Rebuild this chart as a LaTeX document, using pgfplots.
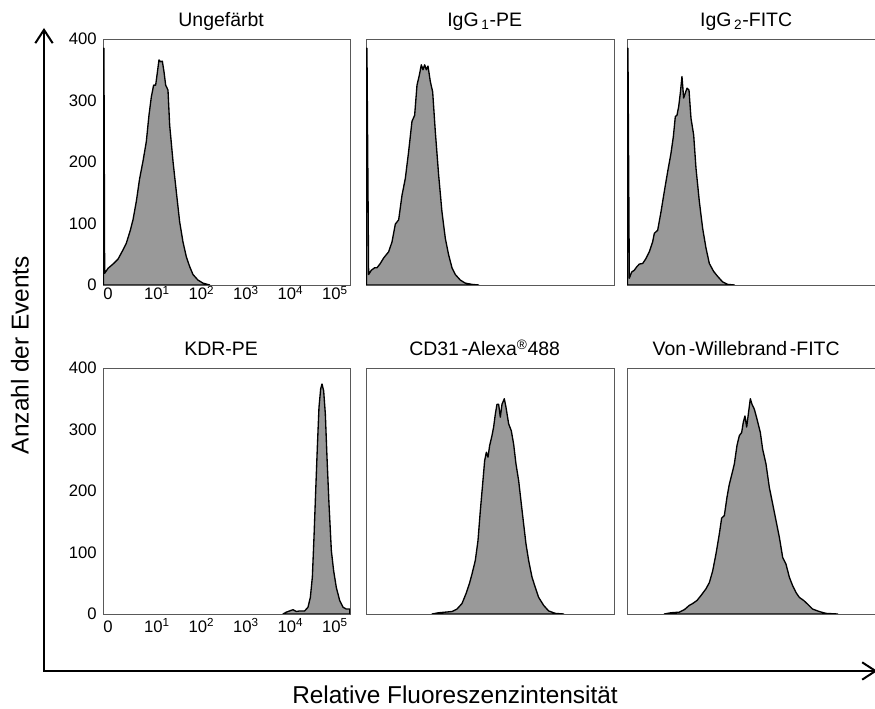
\documentclass[border=0pt]{standalone}
\usepackage{fontspec}
\setmainfont{Liberation Sans}
\usepackage{pgfplots}
\usepackage{pgfplotstable}
\pgfplotsset{compat=1.18}
\usetikzlibrary{arrows.meta}

\pgfplotstableread{
x y
-0.205 0
-0.205 385
-0.192 385
-0.176 19
-0.101 27
0.011 34
0.124 42
0.236 57
0.311 68
0.401 89
0.461 106
0.536 136
0.610 173
0.685 201
0.760 233
0.820 276
0.873 306
0.925 325
0.970 325
1.000 341
1.045 366
1.082 363
1.120 364
1.157 347
1.195 325
1.247 317
1.285 260
1.360 201
1.434 152
1.509 103
1.584 70
1.659 46
1.734 30
1.809 17
1.921 8
2.034 3
2.184 0
}\ungef

\pgfplotstableread{
x y
-0.205 0
-0.205 385
-0.192 385
-0.154 17
-0.094 24
-0.019 28
0.034 28
0.109 35
0.184 44
0.296 54
0.371 70
0.446 99
0.521 106
0.596 146
0.670 173
0.745 217
0.820 266
0.880 276
0.933 325
0.985 341
1.030 358
1.067 350
1.105 358
1.142 350
1.180 356
1.232 331
1.285 314
1.345 249
1.419 179
1.494 119
1.569 76
1.644 49
1.719 28
1.794 17
1.906 8
2.018 3
2.169 1
2.318 0
}\igga

\pgfplotstableread{
x y
-0.205 0
-0.205 385
-0.192 385
-0.161 11
-0.109 21
-0.049 24
0.011 30
0.064 34
0.139 35
0.213 43
0.288 54
0.363 70
0.401 84
0.476 89
0.551 119
0.625 152
0.700 184
0.775 214
0.828 241
0.873 274
0.910 276
0.948 290
0.985 312
1.022 339
1.060 304
1.097 312
1.135 320
1.180 317
1.225 271
1.285 244
1.337 190
1.412 136
1.487 92
1.562 60
1.637 35
1.734 22
1.824 14
1.936 5
2.049 1
2.199 0
}\iggb

\pgfplotstableread{
x y
3.831 0
3.906 3
3.981 5
4.056 7
4.131 4
4.206 5
4.318 5
4.393 11
4.446 27
4.491 60
4.528 125
4.566 200
4.603 271
4.640 336
4.678 366
4.708 374
4.745 363
4.783 325
4.820 255
4.865 179
4.918 103
4.970 70
5.030 43
5.105 22
5.180 11
5.255 8
5.330 8
}\kdr

\pgfplotstableread{
x y
1.270 0
1.419 2
1.569 3
1.719 4
1.831 8
1.944 17
2.034 33
2.109 49
2.169 65
2.243 87
2.303 119
2.356 168
2.408 211
2.453 249
2.491 263
2.528 255
2.566 274
2.618 290
2.655 304
2.693 325
2.730 341
2.768 341
2.805 320
2.843 341
2.895 350
2.933 336
2.993 309
3.052 298
3.105 276
3.157 244
3.217 217
3.277 179
3.330 146
3.382 114
3.442 87
3.517 60
3.592 43
3.667 27
3.779 14
3.891 5
4.040 1
4.228 0
}\cdtl

\pgfplotstableread{
x y
0.625 0
0.775 2
0.963 3
1.075 7
1.187 14
1.262 17
1.360 22
1.449 30
1.562 41
1.637 51
1.712 70
1.787 98
1.861 130
1.914 156
1.974 160
2.034 190
2.086 211
2.146 228
2.199 244
2.258 274
2.311 290
2.363 295
2.401 312
2.438 322
2.476 304
2.513 325
2.558 350
2.596 341
2.648 333
2.708 317
2.783 295
2.835 268
2.910 244
2.985 206
3.060 179
3.135 152
3.210 125
3.285 92
3.360 81
3.434 60
3.509 46
3.584 35
3.659 27
3.757 22
3.846 16
3.958 8
4.107 4
4.257 1
4.519 0
}\vwf

\pgfplotsset{
  panel/.style={
    scale only axis, height=184.5pt,
    ymin=0, ymax=400, xmin=-0.213,
    anchor=south west,
    axis line style={black!65, line width=0.5pt},
    xtick=\empty, ytick=\empty,
    major tick length=0pt,
    title style={font=\fontsize{14.6pt}{17pt}\selectfont, anchor=base, at={(0.5,1)}, yshift=3pt, xshift=-4pt},
    ticklabel style={font=\fontsize{12.5pt}{14pt}\selectfont},
  },
  labelled/.style={
    xtick={-0.1,1,2,3,4,5},
    xticklabels={0,10\textsuperscript{1},10\textsuperscript{2},10\textsuperscript{3},10\textsuperscript{4},10\textsuperscript{5}},
    ytick={0,100,200,300,400},
    yticklabels={0,100,200,300,400},
    xticklabel style={anchor=base, inner sep=0pt},
    yticklabel style={anchor=east, inner sep=0pt, xshift=-4.5pt},
  },
  hist/.style={draw=black, line width=1pt, fill=black!40, line join=round},
}

\begin{document}
\begin{tikzpicture}
\useasboundingbox (0,0) rectangle (656.25pt,531.75pt);

% row 1
\begin{axis}[panel, labelled, at={(77.25pt,318pt)}, width=185.25pt, xmax=5.337, title={Ungefärbt},
  xticklabel style={yshift=-11.25pt}]
\addplot[hist] table {\ungef} \closedcycle;
\end{axis}
\begin{axis}[panel, at={(274.5pt,318pt)}, width=186pt, xmax=5.36, title={IgG\kern2pt\textsubscript{1}-PE}]
\addplot[hist] table {\igga} \closedcycle;
\end{axis}
\begin{axis}[panel, at={(470.25pt,318pt)}, width=186.75pt, xmax=5.382, title={IgG\kern2pt\textsubscript{2}-FITC}]
\addplot[hist] table {\iggb} \closedcycle;
\end{axis}

% row 2
\begin{axis}[panel, labelled, at={(77.25pt,71.25pt)}, width=185.25pt, xmax=5.337, title={KDR-PE},
  xticklabel style={yshift=-14pt}]
\addplot[hist] table {\kdr} \closedcycle;
\end{axis}
\begin{axis}[panel, at={(274.5pt,71.25pt)}, width=186pt, xmax=5.36, title={CD31\kern2pt-Alexa\textsuperscript{®}488}]
\addplot[hist] table {\cdtl} \closedcycle;
\end{axis}
\begin{axis}[panel, at={(470.25pt,71.25pt)}, width=186.75pt, xmax=5.382, title={Von\kern2pt-Willebrand\kern2pt-FITC}]
\addplot[hist] table {\vwf} \closedcycle;
\end{axis}

% outer axes
\draw[line width=1.5pt, line join=miter, {Straight Barb[length=10pt,width=13pt]}-{Straight Barb[length=10pt,width=13pt]}]
  (33pt,510.75pt) -- (33pt,28.5pt) -- (658pt,28.5pt);

\node[rotate=90, font=\fontsize{18.3pt}{20pt}\selectfont] at (15pt,265.5pt) {Anzahl der Events};
\node[anchor=base, font=\fontsize{18.3pt}{20pt}\selectfont] at (341.25pt,3.75pt) {Relative Fluoreszenzintensität};
\end{tikzpicture}
\end{document}
